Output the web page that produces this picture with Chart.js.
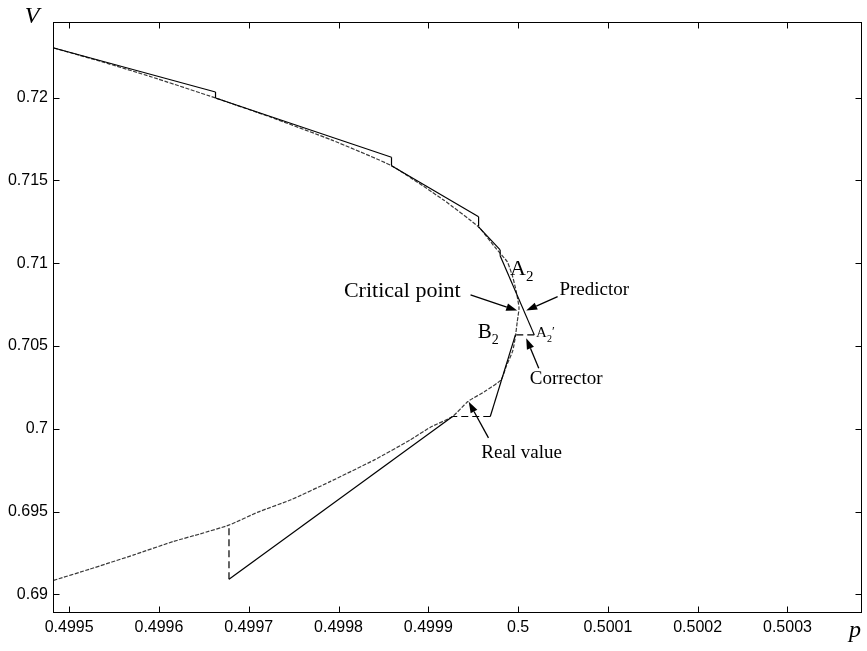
<!DOCTYPE html>
<html><head><meta charset="utf-8">
<script src="https://cdn.jsdelivr.net/npm/chart.js@4.4.1/dist/chart.umd.min.js"></script>
<style>html,body{margin:0;padding:0;background:#fff;}canvas{display:block;}</style>
</head><body>
<canvas id="c" width="867" height="651"></canvas>
<script>
// ---- axis ticks ----
const xTickValues = [0.4995, 0.4996, 0.4997, 0.4998, 0.4999, 0.5, 0.5001, 0.5002, 0.5003];
const xTickLabels = ['0.4995', '0.4996', '0.4997', '0.4998', '0.4999', '0.5', '0.5001', '0.5002', '0.5003'];
const yTickValues = [0.69, 0.695, 0.7, 0.705, 0.71, 0.715, 0.72];
const yTickLabels = ['0.69', '0.695', '0.7', '0.705', '0.71', '0.715', '0.72'];

// ---- real P-V curve ----
const curveP = [0.499483, 0.499537, 0.499592, 0.499663, 0.499724, 0.499792, 0.499859, 0.499917,
  0.499956, 0.499974, 0.499988, 0.499994, 0.499998, 0.500001, 0.499999, 0.499997, 0.499994,
  0.499987, 0.499981, 0.499964, 0.499944, 0.499927, 0.499902, 0.499880, 0.499840, 0.499790,
  0.499747, 0.499711, 0.499678, 0.499646, 0.499616, 0.499572, 0.499523, 0.499482];
const curveV = [0.72300, 0.72216, 0.72125, 0.71998, 0.71883, 0.71745, 0.71589, 0.71382,
  0.71219, 0.71098, 0.71008, 0.70917, 0.70827, 0.70730, 0.70645, 0.70557, 0.70470,
  0.70380, 0.70295, 0.70229, 0.70164, 0.70074, 0.70008, 0.69933, 0.69812, 0.69679,
  0.69571, 0.69498, 0.69418, 0.69365, 0.69319, 0.69238, 0.69152, 0.69083];

// ---- predictor / corrector path ----
const stepP = [0.499483, 0.499663, 0.499663, 0.499859, 0.499859, 0.499956, 0.499956, 0.499980,
  0.499980, 0.500018, 0.499997, 0.499969, 0.499927, 0.499678, 0.499678];
const stepV = [0.72300, 0.72034, 0.71998, 0.71640, 0.71589, 0.71280, 0.71219, 0.71080,
  0.71045, 0.70567, 0.70567, 0.70074, 0.70074, 0.69091, 0.69418];
// kind of the segment that starts at each point
const stepKind = ['predictor', 'corrector', 'predictor', 'corrector', 'predictor', 'corrector',
  'predictor', 'corrector', 'predictor', 'corrector', 'predictor', 'corrector', 'predictor', 'corrector'];

// ---- annotations (data coordinates) ----
const notes = [
  { text: 'Critical point', p: 0.499936, v: 0.707947, size: 22, align: 'right' },
  { text: 'Predictor', p: 0.500046, v: 0.708086, size: 19, align: 'left' },
  { text: 'Corrector', p: 0.500013, v: 0.702711, size: 19, align: 'left' },
  { text: 'Real value', p: 0.499959, v: 0.698225, size: 19, align: 'left' }
];
const subNotes = [
  { main: 'A', sub: '2', prime: '', p: 0.499991, v: 0.709293, size: 22, subSize: 15, dy: 6, gap: 0 },
  { main: 'B', sub: '2', prime: '', p: 0.499955, v: 0.705489, size: 21, subSize: 14, dy: 6, gap: 0 },
  { main: 'A', sub: '2', prime: '\u2032', p: 0.500020, v: 0.705549, size: 15, subSize: 10, dy: 5, gap: 0 }
];
const arrows = [
  { from: [0.499947, 0.708086], to: [0.499999, 0.707138] },
  { from: [0.500044, 0.707983], to: [0.500009, 0.707138] },
  { from: [0.500023, 0.703659], to: [0.500009, 0.705471] },
  { from: [0.499967, 0.699450], to: [0.499945, 0.701624] }
];

const curveData = curveP.map((p, i) => ({ x: p, y: curveV[i] }));
const stepData = stepP.map((p, i) => ({ x: p, y: stepV[i] }));

const SERIF = '"Liberation Serif", "Times New Roman", serif';

const decor = {
  id: 'decor',
  afterDatasetsDraw(chart) {
    const { ctx, chartArea: a, scales: { x, y } } = chart;
    ctx.save();
    ctx.strokeStyle = '#000';
    ctx.lineWidth = 1;
    const L = Math.round(a.left) + 0.5, R = Math.round(a.right) - 0.5;
    const T = Math.round(a.top) + 0.5, B = Math.round(a.bottom) - 0.5;
    ctx.strokeRect(L, T, R - L, B - T);
    ctx.beginPath();
    xTickValues.forEach(v => {
      const px = Math.round(x.getPixelForValue(v)) + 0.5;
      ctx.moveTo(px, B); ctx.lineTo(px, B - 6);
      ctx.moveTo(px, T); ctx.lineTo(px, T + 6);
    });
    yTickValues.forEach(v => {
      const py = Math.round(y.getPixelForValue(v)) + 0.5;
      ctx.moveTo(L, py); ctx.lineTo(L + 6, py);
      ctx.moveTo(R, py); ctx.lineTo(R - 6, py);
    });
    ctx.stroke();

    // arrows
    ctx.fillStyle = '#000';
    ctx.lineWidth = 1.3;
    arrows.forEach(ar => {
      const x0 = x.getPixelForValue(ar.from[0]), y0 = y.getPixelForValue(ar.from[1]);
      const x1 = x.getPixelForValue(ar.to[0]), y1 = y.getPixelForValue(ar.to[1]);
      const ang = Math.atan2(y1 - y0, x1 - x0);
      const hl = 11, hw = 3.8;
      const bx = x1 - hl * Math.cos(ang), by = y1 - hl * Math.sin(ang);
      ctx.beginPath(); ctx.moveTo(x0, y0); ctx.lineTo(bx, by); ctx.stroke();
      ctx.beginPath();
      ctx.moveTo(x1, y1);
      ctx.lineTo(bx + hw * Math.sin(ang), by - hw * Math.cos(ang));
      ctx.lineTo(bx - hw * Math.sin(ang), by + hw * Math.cos(ang));
      ctx.closePath(); ctx.fill();
    });

    // text notes
    ctx.textBaseline = 'alphabetic';
    notes.forEach(n => {
      ctx.font = n.size + 'px ' + SERIF;
      ctx.textAlign = n.align;
      ctx.fillText(n.text, x.getPixelForValue(n.p), y.getPixelForValue(n.v));
    });
    ctx.textAlign = 'left';
    subNotes.forEach(n => {
      const px = x.getPixelForValue(n.p), py = y.getPixelForValue(n.v);
      ctx.font = n.size + 'px ' + SERIF;
      ctx.fillText(n.main, px, py);
      const w = ctx.measureText(n.main).width;
      ctx.font = n.subSize + 'px ' + SERIF;
      ctx.fillText(n.sub, px + w + n.gap, py + n.dy);
      if (n.prime) {
        const w2 = ctx.measureText(n.sub).width;
        ctx.font = '13px ' + SERIF;
        ctx.fillText(n.prime, px + w + n.gap + w2, py - 2);
      }
    });

    // axis names
    ctx.font = 'italic 24px ' + SERIF;
    ctx.textAlign = 'center';
    ctx.fillText('V', 32, 23);
    ctx.fillText('p', 855, 637);
    ctx.restore();
  }
};

new Chart(document.getElementById('c'), {
  type: 'scatter',
  data: {
    datasets: [
      {
        label: 'Predictor-corrector',
        data: stepData,
        showLine: true,
        borderColor: '#000',
        borderWidth: 1.2,
        pointRadius: 0,
        tension: 0,
        segment: {
          borderDash: ctx => stepKind[ctx.p0DataIndex] === 'corrector' ? [7, 4] : []
        }
      },
      {
        label: 'Real curve',
        data: curveData,
        showLine: true,
        borderColor: '#3a3a3a',
        borderWidth: 1.2,
        borderDash: [4, 1.5],
        pointRadius: 0,
        tension: 0.15
      }
    ]
  },
  options: {
    responsive: false,
    animation: false,
    devicePixelRatio: 1,
    events: [],
    layout: { padding: { left: 0, top: 22, right: 5, bottom: 0 } },
    plugins: { legend: { display: false }, tooltip: { enabled: false } },
    scales: {
      x: {
        type: 'linear',
        min: 0.499482,
        max: 0.500383,
        grid: { display: false, drawTicks: false },
        border: { display: false },
        afterBuildTicks: s => { s.ticks = xTickValues.map(v => ({ value: v })); },
        afterFit: s => { s.height = 38; },
        ticks: {
          autoSkip: false, maxRotation: 0, minRotation: 0, padding: 5, color: '#000',
          font: { family: '"Liberation Sans", Arial, sans-serif', size: 16 },
          callback: (v, i) => xTickLabels[i]
        }
      },
      y: {
        type: 'linear',
        min: 0.68887,
        max: 0.72457,
        grid: { display: false, drawTicks: false },
        border: { display: false },
        afterBuildTicks: s => { s.ticks = yTickValues.map(v => ({ value: v })); },
        afterFit: s => { s.width = 53; },
        ticks: {
          autoSkip: false, padding: 5, color: '#000',
          font: { family: '"Liberation Sans", Arial, sans-serif', size: 16 },
          callback: (v, i) => yTickLabels[i]
        }
      }
    }
  },
  plugins: [decor]
});
</script>
</body></html>
